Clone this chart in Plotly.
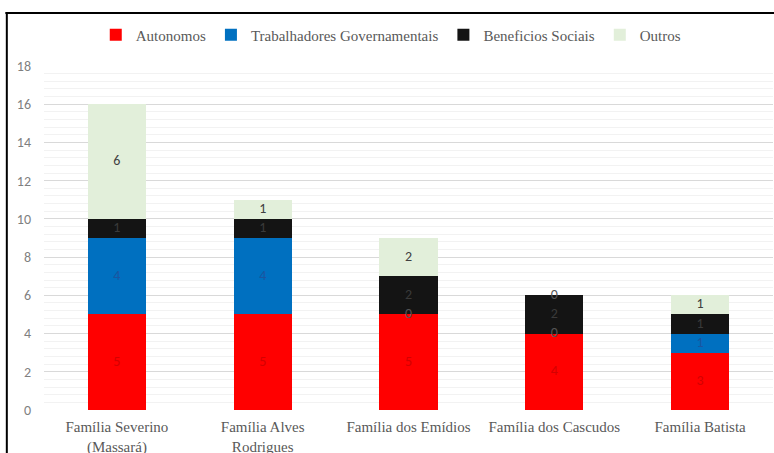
import plotly.graph_objects as go
import numpy as np

# Household income sources per family
familias = ["Família Severino<br>(Massará)", "Família Alves<br>Rodrigues",
            "Família dos Emídios", "Família dos Cascudos", "Família Batista"]
autonomos = [5, 5, 5, 4, 3]
trabalhadores = [4, 4, 0, 0, 1]
beneficios = [1, 1, 2, 2, 1]
outros = [6, 1, 2, 0, 1]

series = [
    ("Autonomos", autonomos, "#FF0000", "#D40000"),
    ("Trabalhadores Governamentais", trabalhadores, "#0070C0", "#1A55A0"),
    ("Beneficios Sociais", beneficios, "#141414", "#3A3A3A"),
    ("Outros", outros, "#E2EFDA", "#404040"),
]
y_ticks = [0, 2, 4, 6, 8, 10, 12, 14, 16, 18]

SERIF = "Liberation Serif"
SANS = "Carlito, Lato, sans-serif"

fig = go.Figure()
base = np.zeros(len(familias))
label_traces = []
for name, vals, color, txtcolor in series:
    vals = np.array(vals, dtype=float)
    fig.add_trace(go.Bar(name=name, x=familias, y=vals, marker_color=color,
                         marker_line_width=0))
    # value labels centred in each segment (zeros sit on the boundary)
    label_traces.append(go.Scatter(
        x=familias, y=base + vals / 2, mode="text",
        text=[str(int(v)) for v in vals],
        textfont=dict(family=SANS, size=14,
                      color=[("#555555" if v == 0 else txtcolor) for v in vals]),
        showlegend=False, hoverinfo="skip"))
    base = base + vals
for t in label_traces:
    fig.add_trace(t)

fig.update_layout(
    width=774, height=453,
    barmode="stack", bargap=0.6,
    plot_bgcolor="white", paper_bgcolor="white",
    margin=dict(l=44, r=1, t=66, b=43),
    font=dict(family=SERIF, size=15, color="#595959"),
    legend=dict(orientation="h", x=0.071, xanchor="left", y=1.09,
                yanchor="middle", bgcolor="rgba(0,0,0,0)",
                font=dict(family=SERIF, size=15, color="#595959"),
                traceorder="normal"),
    xaxis=dict(showgrid=False, showline=False, ticks="", automargin=False,
               ticklabelstandoff=6,
               tickfont=dict(family=SERIF, size=15, color="#595959")),
    yaxis=dict(range=[0, 18], tickvals=y_ticks, showline=False,
               automargin=False,
               gridcolor="#D9D9D9", gridwidth=1, zeroline=False,
               ticklabelstandoff=12,
               tickfont=dict(family=SANS, size=14, color="#7F7F7F"),
               minor=dict(dtick=0.4, showgrid=True, gridcolor="#F2F2F2",
                          gridwidth=1)),
    shapes=[
        dict(type="line", xref="paper", yref="paper", x0=-0.053, x1=1.01,
             y0=1.154, y1=1.154, line=dict(color="black", width=2)),
        dict(type="line", xref="paper", yref="paper", x0=-0.051, x1=-0.051,
             y0=1.157, y1=-0.14, line=dict(color="black", width=2)),
    ],
)

fig.write_html("out.html")
